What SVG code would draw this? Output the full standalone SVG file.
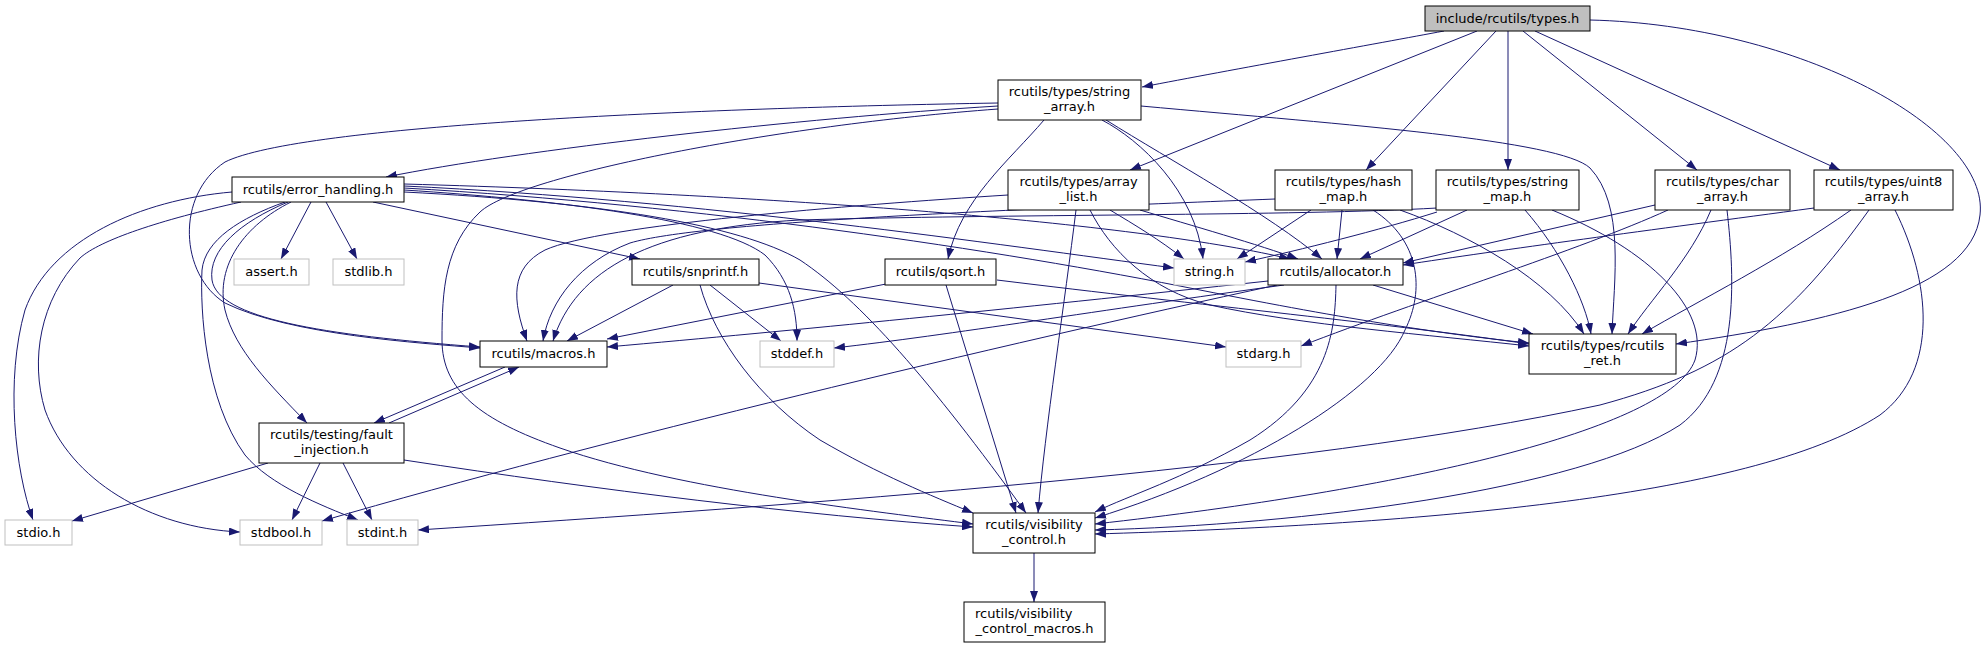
<svg xmlns="http://www.w3.org/2000/svg" width="1986" height="648" viewBox="0 0 1986 648">
<style>
.n rect{fill:#fff;stroke:#000;stroke-width:1}
.r rect{fill:#bfbfbf;stroke:#000;stroke-width:1}
.s rect{fill:#fff;stroke:#bfbfbf;stroke-width:1}
text{font-family:"DejaVu Sans","Liberation Sans",sans-serif;font-size:13px;fill:#000;text-anchor:middle}
.e path{fill:none;stroke:#191970;stroke-width:1;marker-end:url(#arr)}
</style>
<defs>
<marker id="arr" viewBox="0 0 11 8" refX="11" refY="4" markerWidth="11" markerHeight="8" markerUnits="userSpaceOnUse" orient="auto"><path d="M0,0L11,4L0,8z" fill="#191970"/></marker>
</defs>
<rect width="1986" height="648" fill="#fff"/>
<g class="e" id="edges">
<path d="M1444,31 C1380,43 1230,70 1142,87"/>
<path d="M1477,31 L1130,170"/>
<path d="M1496,31 L1366,170"/>
<path d="M1508,31 L1508,170"/>
<path d="M1523,31 L1697,170"/>
<path d="M1535,31 L1840,170"/>
<path d="M1590,20 C1800,25 1990,130 1980,215 C1972,290 1830,322 1676,344"/>
<path d="M998,106 C800,118 520,150 386,177"/>
<path d="M998,103 C700,108 300,125 225,162 C175,195 180,275 225,303 C290,335 420,343 480,348"/>
<path d="M998,109 C780,125 520,175 480,212 C445,245 442,290 442,340 C442,390 480,420 560,448 C680,490 880,512 973,524"/>
<path d="M1044,120 C1010,160 960,200 948,259"/>
<path d="M1102,120 C1140,140 1195,190 1203,259"/>
<path d="M1106,120 C1170,160 1270,215 1322,259"/>
<path d="M1141,106 C1350,125 1560,140 1590,168 C1625,205 1614,280 1612,334"/>
<path d="M1008,195 C850,205 600,225 545,250 C510,268 512,300 527,341"/>
<path d="M1110,210 C1135,225 1160,240 1184,259"/>
<path d="M1140,210 C1190,225 1260,245 1298,259"/>
<path d="M1090,210 C1110,250 1150,290 1210,305 C1300,325 1430,335 1529,346"/>
<path d="M1076,210 C1065,300 1045,430 1038,513"/>
<path d="M1275,199 C1000,210 700,222 630,243 C580,262 550,300 543,341"/>
<path d="M1311,210 L1237,259"/>
<path d="M1342,210 L1337,259"/>
<path d="M1400,210 C1470,235 1550,280 1584,334"/>
<path d="M1373,210 C1420,240 1425,290 1405,330 C1380,390 1250,470 1095,518"/>
<path d="M1437,208 C1300,216 1000,214 800,220 C650,228 575,270 553,341"/>
<path d="M1437,212 C1380,230 1300,250 1245,262"/>
<path d="M1467,210 L1360,259"/>
<path d="M1525,210 C1560,250 1585,300 1591,334"/>
<path d="M1552,210 C1650,250 1710,310 1695,360 C1670,430 1400,490 1095,524"/>
<path d="M1655,205 L1403,263"/>
<path d="M1668,210 C1580,250 1420,300 1301,346"/>
<path d="M1711,210 C1690,260 1650,300 1628,334"/>
<path d="M1727,210 C1735,280 1740,380 1680,425 C1580,490 1300,525 1095,530"/>
<path d="M1814,208 C1650,230 1500,250 1403,265"/>
<path d="M1851,210 C1780,260 1700,300 1642,334"/>
<path d="M1869,210 C1790,320 1730,370 1600,405 C1300,470 800,505 418,530"/>
<path d="M1895,210 C1930,280 1940,370 1880,415 C1750,500 1400,525 1095,534"/>
<path d="M311,202 L281,259"/>
<path d="M326,202 L357,259"/>
<path d="M232,192 C140,200 50,240 25,310 C5,380 15,470 33,520"/>
<path d="M241,202 C160,220 100,240 80,258 C40,300 30,360 45,410 C70,480 150,528 240,532"/>
<path d="M285,202 C240,218 205,240 202,270 C200,310 205,400 245,455 C270,485 320,505 358,520"/>
<path d="M291,202 C245,225 215,265 225,310 C235,350 270,385 307,423"/>
<path d="M288,202 C240,222 208,250 212,280 C218,318 320,335 480,347"/>
<path d="M373,202 L640,259"/>
<path d="M404,186 C700,200 1000,245 1174,268"/>
<path d="M404,184 C800,195 1150,225 1290,259"/>
<path d="M404,188 C700,205 1000,250 1200,290 C1350,320 1450,335 1529,343"/>
<path d="M404,190 C560,200 720,220 765,255 C790,280 797,310 797,341"/>
<path d="M404,192 C600,202 740,225 800,260 C860,300 930,380 1026,513"/>
<path d="M1268,281 C1000,310 800,330 607,347"/>
<path d="M1284,285 C1100,310 950,335 834,348"/>
<path d="M1277,285 C1000,345 600,440 322,521"/>
<path d="M1373,285 L1533,334"/>
<path d="M1336,285 C1335,330 1330,390 1250,440 C1180,480 1130,495 1095,512"/>
<path d="M673,285 L567,341"/>
<path d="M759,283 L1226,347"/>
<path d="M710,285 L781,341"/>
<path d="M700,285 C715,340 760,400 820,440 C880,475 930,495 973,513"/>
<path d="M886,284 L607,339"/>
<path d="M997,280 C1200,305 1400,325 1529,344"/>
<path d="M946,285 L1016,513"/>
<path d="M505,367 L374,423"/>
<path d="M389,423 L519,367"/>
<path d="M268,463 L72,521"/>
<path d="M320,463 L292,520"/>
<path d="M343,463 L372,520"/>
<path d="M404,460 C600,490 800,515 973,527"/>
<path d="M1034,553 L1034,602"/>
</g>
<g id="n1" class="r"><rect x="1425" y="6" width="165" height="25"/><text x="1507.5" y="23">include/rcutils/types.h</text></g>
<g id="n2" class="n"><rect x="998" y="80" width="143" height="40"/><text x="1069.5" y="96">rcutils/types/string</text><text x="1069.5" y="111">_array.h</text></g>
<g id="n3" class="n"><rect x="1008" y="170" width="141" height="40"/><text x="1078.5" y="186">rcutils/types/array</text><text x="1078.5" y="201">_list.h</text></g>
<g id="n4" class="n"><rect x="1275" y="170" width="137" height="40"/><text x="1343.5" y="186">rcutils/types/hash</text><text x="1343.5" y="201">_map.h</text></g>
<g id="n5" class="n"><rect x="1436" y="170" width="143" height="40"/><text x="1507.5" y="186">rcutils/types/string</text><text x="1507.5" y="201">_map.h</text></g>
<g id="n6" class="n"><rect x="1655" y="170" width="135" height="40"/><text x="1722.5" y="186">rcutils/types/char</text><text x="1722.5" y="201">_array.h</text></g>
<g id="n7" class="n"><rect x="1814" y="170" width="139" height="40"/><text x="1883.5" y="186">rcutils/types/uint8</text><text x="1883.5" y="201">_array.h</text></g>
<g id="n8" class="n"><rect x="232" y="177" width="172" height="25"/><text x="318" y="194">rcutils/error_handling.h</text></g>
<g id="n9" class="s"><rect x="234" y="259" width="75" height="26"/><text x="271.5" y="276">assert.h</text></g>
<g id="n10" class="s"><rect x="333" y="259" width="71" height="26"/><text x="368.5" y="276">stdlib.h</text></g>
<g id="n11" class="n"><rect x="632" y="259" width="127" height="26"/><text x="695.5" y="276">rcutils/snprintf.h</text></g>
<g id="n12" class="n"><rect x="885" y="259" width="111" height="26"/><text x="940.5" y="276">rcutils/qsort.h</text></g>
<g id="n13" class="s"><rect x="1174" y="259" width="71" height="26"/><text x="1209.5" y="276">string.h</text></g>
<g id="n14" class="n"><rect x="1268" y="259" width="135" height="26"/><text x="1335.5" y="276">rcutils/allocator.h</text></g>
<g id="n15" class="n"><rect x="480" y="341" width="127" height="26"/><text x="543.5" y="358">rcutils/macros.h</text></g>
<g id="n16" class="s"><rect x="760" y="341" width="74" height="26"/><text x="797" y="358">stddef.h</text></g>
<g id="n17" class="s"><rect x="1226" y="341" width="75" height="26"/><text x="1263.5" y="358">stdarg.h</text></g>
<g id="n18" class="n"><rect x="1529" y="334" width="147" height="40"/><text x="1602.5" y="350">rcutils/types/rcutils</text><text x="1602.5" y="365">_ret.h</text></g>
<g id="n19" class="n"><rect x="259" y="423" width="145" height="40"/><text x="331.5" y="439">rcutils/testing/fault</text><text x="331.5" y="454">_injection.h</text></g>
<g id="n20" class="s"><rect x="5" y="520" width="67" height="25"/><text x="38.5" y="537">stdio.h</text></g>
<g id="n21" class="s"><rect x="240" y="520" width="82" height="25"/><text x="281" y="537">stdbool.h</text></g>
<g id="n22" class="s"><rect x="347" y="520" width="71" height="25"/><text x="382.5" y="537">stdint.h</text></g>
<g id="n23" class="n"><rect x="973" y="513" width="122" height="40"/><text x="1034" y="529">rcutils/visibility</text><text x="1034" y="544">_control.h</text></g>
<g id="n24" class="n"><rect x="964" y="602" width="141" height="40"/><text x="975" y="618" style="text-anchor:start">rcutils/visibility</text><text x="1034.5" y="633">_control_macros.h</text></g>
</svg>
